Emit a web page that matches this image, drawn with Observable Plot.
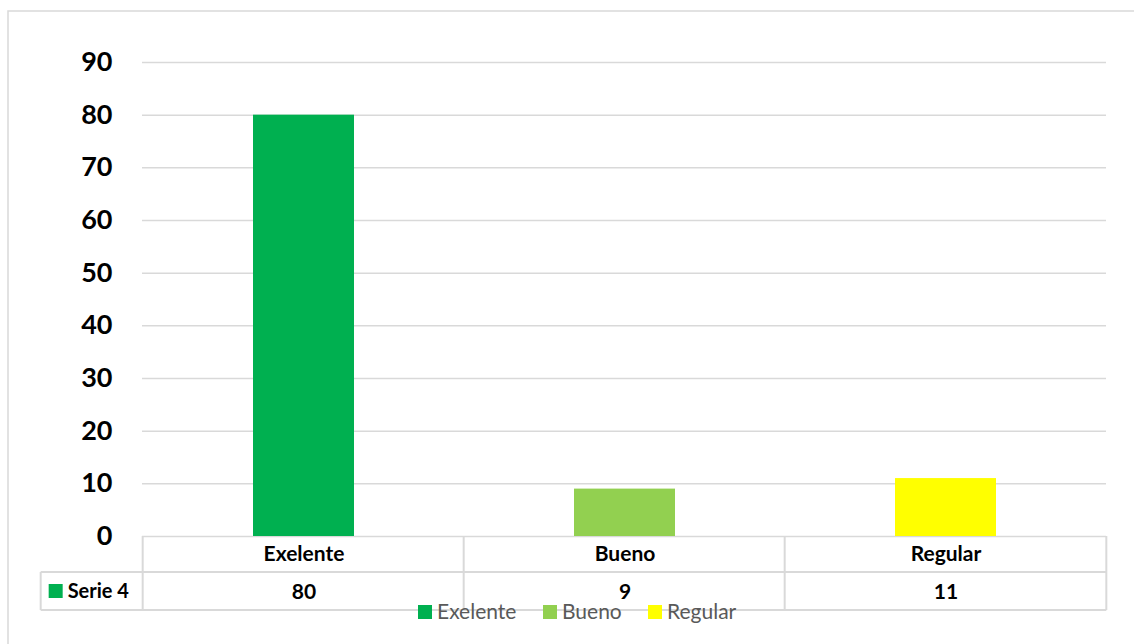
<!DOCTYPE html>
<html>
<head>
<meta charset="utf-8">
<script src="https://cdn.jsdelivr.net/npm/d3@7"></script>
<script src="https://cdn.jsdelivr.net/npm/@observablehq/plot@0.6"></script>
<style>
  html, body { margin: 0; padding: 0; background: #fff; }
  #chart svg { display: block; font-family: Lato, "Open Sans", sans-serif; }
</style>
</head>
<body>
<div id="chart"></div>
<script>
const categories = ["Exelente", "Bueno", "Regular"];
const values = [80, 9, 11];
const colors = ["#00b050", "#92d050", "#ffff00"];
const seriesName = "Serie 4";
const yTicks = [0, 10, 20, 30, 40, 50, 60, 70, 80, 90];

const data = categories.map((c, i) => ({cat: c, value: values[i], color: colors[i]}));

const W = 1134, H = 644;
const grid = "#d9d9d9";

const chart = Plot.plot({
  width: W,
  height: H,
  marginLeft: 142,
  marginRight: 28,
  marginTop: 62,
  marginBottom: 108,
  style: {fontFamily: "Lato, 'Open Sans', sans-serif", color: "#000", background: "#fff"},
  x: {domain: categories, axis: null, label: null, paddingInner: 0.686, paddingOuter: 0.343},
  y: {domain: [0, 90], axis: null, label: null},
  marks: [
    Plot.ruleY(yTicks, {stroke: grid, strokeWidth: 1.5}),
    Plot.barY(data, {x: "cat", y: "value", fill: "color"}),
    Plot.axisY({ticks: yTicks, label: null, tickSize: 0, tickPadding: 30, fontSize: 27, fontWeight: "bold", fill: "#000"}),
    Plot.text(data, {x: "cat", frameAnchor: "bottom", lineAnchor: "middle", dy: 18, text: "cat", fontSize: 21, fontWeight: "bold", fill: "#000"}),
    Plot.text(data, {x: "cat", frameAnchor: "bottom", lineAnchor: "middle", dy: 56, text: d => String(d.value), fontSize: 21, fontWeight: "bold", fill: "#000"})
  ]
});

document.getElementById("chart").appendChild(chart);

// Data table lines, outer border and legend, positioned from Plot's own scales
const svg = d3.select(chart);
const sx = chart.scale("x");
const sy = chart.scale("y");
const step = sx.bandwidth / (1 - 0.686);
const y0 = sy.apply(0);
const row1 = y0 + 36, row2 = y0 + 74;
const left = sx.apply(categories[0]) + sx.bandwidth / 2 - step / 2;
const right = sx.apply(categories[categories.length - 1]) + sx.bandwidth / 2 + step / 2;
const tableLeft = left - 102;

const g = svg.append("g").attr("stroke", grid).attr("stroke-width", 2).attr("fill", "none");
// outer chart border (cropped at right/bottom)
g.append("rect").attr("x", 8).attr("y", 11).attr("width", W).attr("height", H).attr("stroke-width", 1.5);
// horizontal table lines
g.append("line").attr("x1", tableLeft).attr("x2", right).attr("y1", row1).attr("y2", row1);
g.append("line").attr("x1", tableLeft).attr("x2", right).attr("y1", row2).attr("y2", row2);
// vertical lines
g.append("line").attr("x1", tableLeft).attr("x2", tableLeft).attr("y1", row1).attr("y2", row2);
categories.forEach((c, i) => {
  const xb = sx.apply(c) + sx.bandwidth / 2 - step / 2;
  g.append("line").attr("x1", xb).attr("x2", xb).attr("y1", y0).attr("y2", row2);
});
g.append("line").attr("x1", right).attr("x2", right).attr("y1", y0).attr("y2", row2);

// Series label cell
svg.append("rect").attr("x", tableLeft + 8).attr("y", (row1 + row2) / 2 - 7).attr("width", 14).attr("height", 14).attr("fill", colors[0]);
svg.append("text").attr("x", tableLeft + 27).attr("y", (row1 + row2) / 2).attr("dy", "0.35em")
  .attr("text-anchor", "start")
  .attr("font-size", 20).attr("font-weight", "bold").attr("fill", "#000").text(seriesName);

// Legend
const legend = svg.append("g").attr("font-size", 21).attr("fill", "#595959").attr("text-anchor", "start");
const legendX = [418, 543, 648];
const legendY = 612;
categories.forEach((c, i) => {
  legend.append("rect").attr("x", legendX[i]).attr("y", legendY - 7).attr("width", 14).attr("height", 14).attr("fill", colors[i]);
  legend.append("text").attr("x", legendX[i] + 19).attr("y", legendY).attr("dy", "0.35em")
    .attr("text-anchor", "start").attr("fill", "#595959").text(c);
});
</script>
</body>
</html>
